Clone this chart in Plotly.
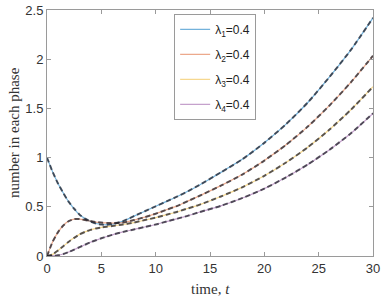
import plotly.graph_objects as go

t = [0, 0.5, 1, 1.5, 2, 2.5, 3, 3.5, 4, 4.5, 5, 5.5, 6, 7, 8, 9, 10, 11, 12, 13, 14, 16, 18, 20, 22, 24, 26, 28, 30]
phase1 = [1.00, 0.86, 0.74, 0.64, 0.55, 0.48, 0.42, 0.38, 0.35, 0.33, 0.32, 0.318, 0.323, 0.355, 0.405, 0.455, 0.505, 0.555, 0.605, 0.66, 0.72, 0.85, 0.985, 1.15, 1.34, 1.56, 1.82, 2.10, 2.42]
phase2 = [0.00, 0.14, 0.24, 0.31, 0.355, 0.375, 0.375, 0.365, 0.355, 0.345, 0.34, 0.336, 0.335, 0.34, 0.365, 0.395, 0.43, 0.47, 0.51, 0.56, 0.61, 0.715, 0.83, 0.97, 1.13, 1.315, 1.53, 1.77, 2.035]
phase3 = [0.00, 0.015, 0.055, 0.10, 0.145, 0.185, 0.22, 0.245, 0.265, 0.28, 0.29, 0.298, 0.305, 0.32, 0.34, 0.365, 0.39, 0.42, 0.45, 0.485, 0.52, 0.605, 0.70, 0.815, 0.95, 1.105, 1.285, 1.49, 1.72]
phase4 = [0.00, 0.001, 0.007, 0.02, 0.04, 0.065, 0.09, 0.115, 0.14, 0.16, 0.18, 0.198, 0.215, 0.245, 0.27, 0.295, 0.32, 0.35, 0.38, 0.41, 0.445, 0.51, 0.59, 0.685, 0.80, 0.93, 1.08, 1.25, 1.45]
labels = ["λ<sub>1</sub>=0.4", "λ<sub>2</sub>=0.4", "λ<sub>3</sub>=0.4", "λ<sub>4</sub>=0.4"]
x_ticks = [0, 5, 10, 15, 20, 25, 30]
y_ticks = [0, 0.5, 1, 1.5, 2, 2.5]
y_ticktext = ["0", "0.5", "1", "1.5", "2", "2.5"]
series = [phase1, phase2, phase3, phase4]
colors = ["rgba(0,114,189,0.55)", "rgba(217,83,25,0.5)", "rgba(237,177,32,0.5)", "rgba(126,47,142,0.45)"]

fig = go.Figure()
for i, (y, lab, c) in enumerate(zip(series, labels, colors)):
    fig.add_trace(go.Scatter(x=t, y=y, mode="lines", name=lab, legendgroup=f"g{i}",
                             line=dict(color=c, width=1.2, shape="spline", smoothing=0.6)))
for y in series:
    fig.add_trace(go.Scatter(x=t, y=y, mode="lines", showlegend=False,
                             line=dict(color="rgba(30,30,40,0.72)", width=2, dash="5px,3px",
                                       shape="spline", smoothing=0.6)))

axis_common = dict(showline=True, linecolor="#9a9a9a", linewidth=1, mirror="ticks",
                   ticks="inside", ticklen=4, tickcolor="#9a9a9a", showgrid=False,
                   zeroline=False, automargin=False, ticklabeloverflow="allow",
                   tickfont=dict(family="Liberation Sans, Arial", size=13, color="#333333"))

title_font = dict(family="Liberation Serif, DejaVu Serif", size=15, color="#333333")

fig.update_layout(
    width=382, height=299,
    margin=dict(l=47, r=9, t=10, b=43),
    plot_bgcolor="white", paper_bgcolor="white",
    xaxis=dict(range=[0, 30], tickvals=x_ticks, **axis_common),
    yaxis=dict(range=[0, 2.5], tickvals=y_ticks, ticktext=y_ticktext, **axis_common),
    legend=dict(x=0.39, y=0.984, xanchor="left", yanchor="top",
                bordercolor="#9a9a9a", borderwidth=1, bgcolor="white",
                font=dict(family="Liberation Sans, Arial", size=12, color="#222222"),
                itemwidth=30, tracegroupgap=6),
    showlegend=True,
    annotations=[
        dict(text="time, <i>t</i>", xref="paper", yref="paper", x=0.5, y=0,
             xanchor="center", yanchor="middle", yshift=-33, showarrow=False, font=title_font),
        dict(text="number in each phase", xref="paper", yref="paper", x=0, y=0.5,
             xanchor="center", yanchor="middle", xshift=-33, textangle=-90,
             showarrow=False, font=title_font),
    ],
)

fig.write_html("out.html", config={"displayModeBar": False},
               post_script="document.body.style.margin='0px';")
